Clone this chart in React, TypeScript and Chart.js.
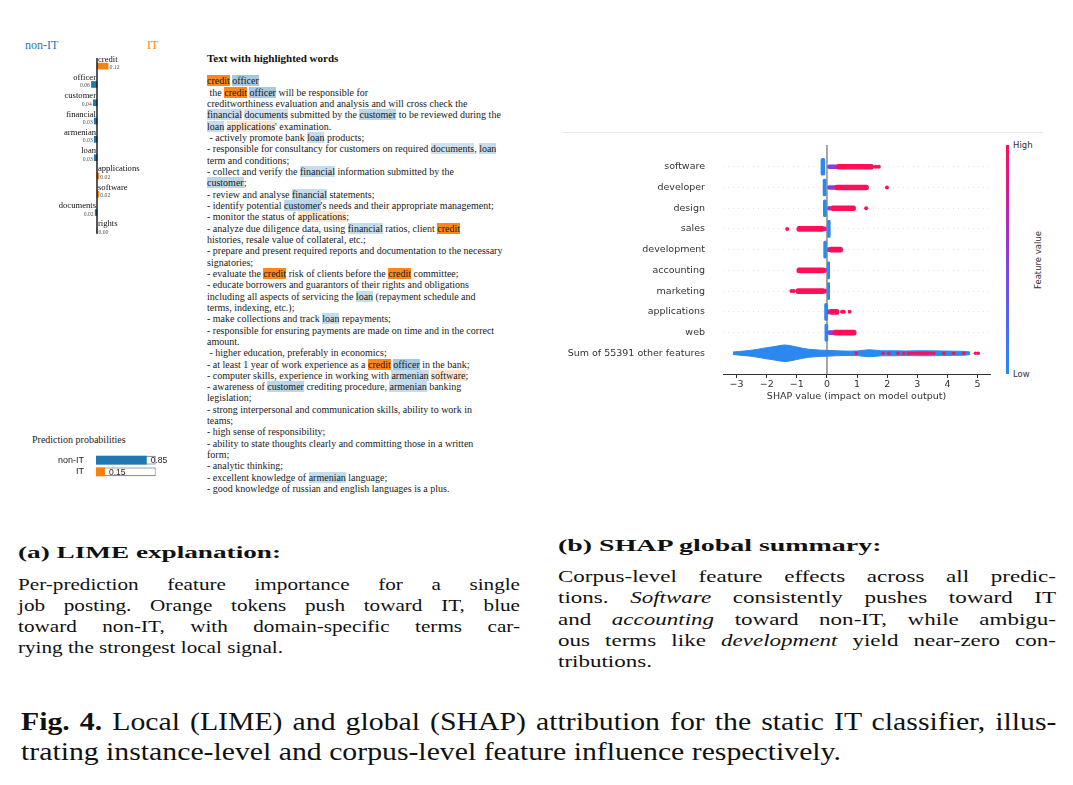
import React, { useEffect, useRef } from 'react';
import { Chart, registerables } from 'chart.js';

Chart.register(...registerables);

// ---------------- DATA ----------------
// (a) LIME local explanation
const limeFeatures = ['credit', 'officer', 'customer', 'financial', 'armenian', 'loan', 'applications', 'software', 'documents', 'rights'];
const limeWeights = [0.12, -0.06, -0.04, -0.03, -0.03, -0.03, 0.02, 0.02, -0.02, 0.0];

// prediction probabilities
const probClasses = ['non-IT', 'IT'];
const probValues = [0.85, 0.15];

// highlighted job posting text (words in [] are LIME features)
const postingLines = [
  '[credit] [officer]',
  ' the [credit] [officer] will be responsible for',
  'creditworthiness evaluation and analysis and will cross check the',
  '[financial] [documents] submitted by the [customer] to be reviewed during the',
  "[loan] [applications]' examination.",
  ' - actively promote bank [loan] products;',
  '- responsible for consultancy for customers on required [documents], [loan]',
  'term and conditions;',
  '- collect and verify the [financial] information submitted by the',
  '[customer];',
  '- review and analyse [financial] statements;',
  "- identify potential [customer]'s needs and their appropriate management;",
  '- monitor the status of [applications];',
  '- analyze due diligence data, using [financial] ratios, client [credit]',
  'histories, resale value of collateral, etc.;',
  '- prepare and present required reports and documentation to the necessary',
  'signatories;',
  '- evaluate the [credit] risk of clients before the [credit] committee;',
  '- educate borrowers and guarantors of their rights and obligations',
  'including all aspects of servicing the [loan] (repayment schedule and',
  'terms, indexing, etc.);',
  '- make collections and track [loan] repayments;',
  '- responsible for ensuring payments are made on time and in the correct',
  'amount.',
  ' - higher education, preferably in economics;',
  '- at least 1 year of work experience as a [credit] [officer] in the bank;',
  '- computer skills, experience in working with [armenian] [software];',
  '- awareness of [customer] crediting procedure, [armenian] banking',
  'legislation;',
  '- strong interpersonal and communication skills, ability to work in',
  'teams;',
  '- high sense of responsibility;',
  '- ability to state thoughts clearly and committing those in a written',
  'form;',
  '- analytic thinking;',
  '- excellent knowledge of [armenian] language;',
  '- good knowledge of russian and english languages is a plus.',
];

// (b) SHAP global summary
const shapFeatures = ['software', 'developer', 'design', 'sales', 'development', 'accounting', 'marketing', 'applications', 'web', 'Sum of 55391 other features'];
const shapXTicks = [-3, -2, -1, 0, 1, 2, 3, 4, 5];
// low feature value (blue) clusters per row: [from, to]
const shapLowRanges = [[-0.2, -0.07], [-0.13, -0.03], [-0.12, -0.02], [0.02, 0.11], [-0.11, 0.0], [0.0, 0.09], [0.0, 0.09], [-0.08, 0.02], [-0.07, 0.03]];
// mid feature value (purple) runs per row
const shapMidRanges = [[0.0, 0.35], [0.0, 0.3], [0.0, 0.15], [-0.12, 0.0], [0.0, 0.08], [-0.08, 0.0], [-0.08, 0.0], [0.0, 0.08], [0.03, 0.25]];
// high feature value (red) runs per row
const shapHighRanges = [[0.3, 1.55], [0.25, 1.38], [0.12, 0.95], [-1.0, -0.08], [0.06, 0.52], [-1.0, -0.06], [-1.03, -0.06], [0.06, 0.4], [0.2, 0.97]];
// isolated high-value points per row
const shapHighOutliers = [[1.62, 1.72], [1.99], [1.3], [-1.32], [], [], [-1.1, -1.18], [0.5, 0.56, 0.75], []];
// "Sum of other features" swarm: x positions and half-spread (in row units)
const sumSwarmX = [-3.12, -2.9, -2.6, -2.3, -2.0, -1.8, -1.6, -1.4, -1.2, -1.0, -0.8, -0.6, -0.4, -0.2, 0.0, 0.5, 1.0, 1.4, 1.8, 2.2, 2.6, 3.0, 3.4, 3.8, 4.2, 4.6, 4.75];
const sumSwarmHalf = [0.06, 0.09, 0.13, 0.19, 0.27, 0.31, 0.36, 0.4, 0.36, 0.3, 0.24, 0.19, 0.17, 0.15, 0.14, 0.11, 0.11, 0.17, 0.12, 0.12, 0.11, 0.12, 0.12, 0.11, 0.1, 0.09, 0.06];
const sumHighPoints = [0.97, 1.86, 2.05, 2.36, 2.55, 2.7, 2.8, 2.9, 3.0, 3.08, 3.15, 3.22, 3.28, 3.35, 3.45, 3.55, 3.88, 4.2, 4.54, 4.93, 5.02];

// captions
type Seg = { t: string; i?: boolean; b?: boolean };
const capAHead: Seg[][] = [[{ t: '(a) LIME explanation:', b: true }]];
const capABody: Seg[][] = [
  [{ t: 'Per-prediction feature importance for a single' }],
  [{ t: 'job posting. Orange tokens push toward IT, blue' }],
  [{ t: 'toward non-IT, with domain-specific terms car-' }],
  [{ t: 'rying the strongest local signal.' }],
];
const capBHead: Seg[][] = [[{ t: '(b) SHAP global summary:', b: true }]];
const capBBody: Seg[][] = [
  [{ t: 'Corpus-level feature effects across all predic-' }],
  [{ t: 'tions. ' }, { t: 'Software', i: true }, { t: ' consistently pushes toward IT' }],
  [{ t: 'and ' }, { t: 'accounting', i: true }, { t: ' toward non-IT, while ambigu-' }],
  [{ t: 'ous terms like ' }, { t: 'development', i: true }, { t: ' yield near-zero con-' }],
  [{ t: 'tributions.' }],
];
const figCaption: Seg[][] = [
  [{ t: 'Fig. 4.', b: true }, { t: ' Local (LIME) and global (SHAP) attribution for the static IT classifier, illus-' }],
  [{ t: 'trating instance-level and corpus-level feature influence respectively.' }],
];

// ---------------- STYLE ----------------
const SERIF = '"Liberation Serif", "Times New Roman", serif';
const SANS = '"DejaVu Sans", sans-serif';
const LIME_BLUE = '#1f77b4';
const LIME_ORANGE = '#ff7f0e';
const SHAP_BLUE = '#2a88ee';
const SHAP_RED = '#ff0f57';
const SHAP_PURPLE = '#8a3ddf';

// ---------------- helpers ----------------
const mctx = document.createElement('canvas').getContext('2d') as CanvasRenderingContext2D;
function segFont(s: Seg, size: number) {
  return `${s.i ? 'italic ' : ''}${s.b ? 'bold ' : ''}${size}px ${SERIF}`;
}
function lineWidth(segs: Seg[], size: number) {
  return segs.reduce((a, s) => {
    mctx.font = segFont(s, size);
    return a + mctx.measureText(s.t).width;
  }, 0);
}
function spaceCount(segs: Seg[]) {
  return segs.reduce((a, s) => a + (s.t.match(/ /g) || []).length, 0);
}

function Para(props: { lines: Seg[][]; left: number; right: number; lastRight: number; ys: number[]; size: number }) {
  const { lines, left, right, lastRight, ys, size } = props;
  const last = lines[lines.length - 1];
  const base = (lastRight - left) / lineWidth(last, size);
  const target = right - left;
  return (
    <>
      {lines.map((segs, k) => {
        const nat = lineWidth(segs, size);
        const isLast = k === lines.length - 1;
        let sx = base;
        let ws = 0;
        if (!isLast) {
          if (nat * sx > target) sx = target / nat;
          else ws = (target / sx - nat) / Math.max(1, spaceCount(segs));
        }
        return (
          <div
            key={k}
            style={{
              position: 'absolute',
              left,
              top: ys[k] - size * 0.62,
              height: size * 1.2,
              lineHeight: `${size * 1.2}px`,
              fontSize: size,
              fontFamily: SERIF,
              whiteSpace: 'pre',
              transform: `scaleX(${sx})`,
              transformOrigin: '0 50%',
              wordSpacing: ws,
              color: '#111',
            }}
          >
            {segs.map((s, j) => (
              <span key={j} style={{ fontStyle: s.i ? 'italic' : 'normal', fontWeight: s.b ? 'bold' : 'normal' }}>
                {s.t}
              </span>
            ))}
          </div>
        );
      })}
    </>
  );
}

function ChartBox(props: { left: number; top: number; width: number; height: number; make: () => any }) {
  const ref = useRef<HTMLCanvasElement>(null);
  useEffect(() => {
    const chart = new Chart(ref.current as HTMLCanvasElement, props.make());
    return () => chart.destroy();
  }, []);
  return (
    <canvas
      ref={ref}
      width={props.width}
      height={props.height}
      style={{ position: 'absolute', left: props.left, top: props.top, width: props.width, height: props.height }}
    />
  );
}

// ---------------- LIME bar chart ----------------
const limePlugin = {
  id: 'limeLabels',
  afterDatasetsDraw(chart: any) {
    const { ctx, scales } = chart;
    const x = scales.x;
    const y = scales.y;
    const x0 = x.getPixelForValue(0);
    ctx.save();
    ctx.strokeStyle = '#111';
    ctx.lineWidth = 1.4;
    ctx.beginPath();
    ctx.moveTo(x0, chart.chartArea.top + 1);
    ctx.lineTo(x0, y.getPixelForValue(limeFeatures.length - 1) + 3);
    ctx.stroke();
    ctx.textBaseline = 'middle';
    limeFeatures.forEach((f, i) => {
      const w = limeWeights[i];
      const yc = y.getPixelForValue(i);
      const pos = w >= 0;
      ctx.font = `8.6px ${SERIF}`;
      ctx.fillStyle = '#111';
      ctx.textAlign = pos ? 'left' : 'right';
      ctx.fillText(f, pos ? x0 + 1 : x0 - 1, yc - 6.8);
      ctx.font = `5.7px ${SERIF}`;
      ctx.fillStyle = '#555';
      const xe = x.getPixelForValue(w);
      ctx.fillText(Math.abs(w).toFixed(2), pos ? xe + 1.5 : xe - 1.5, yc + 1.5);
    });
    ctx.restore();
  },
};

function makeLime() {
  return {
    type: 'bar',
    data: {
      labels: limeFeatures,
      datasets: [
        {
          data: limeWeights,
          backgroundColor: limeWeights.map((w) => (w > 0 ? LIME_ORANGE : LIME_BLUE)),
          barThickness: 6,
        },
      ],
    },
    options: {
      indexAxis: 'y',
      responsive: false,
      animation: false,
      events: [],
      layout: { padding: { top: 10, bottom: 7, left: 0, right: 0 } },
      plugins: { legend: { display: false }, tooltip: { enabled: false } },
      scales: {
        x: { type: 'linear', min: -0.8, max: 0.8, display: false },
        y: { display: false },
      },
    },
    plugins: [limePlugin],
  };
}

// ---------------- prediction probabilities ----------------
const probPlugin = {
  id: 'probLabels',
  afterDatasetsDraw(chart: any) {
    const { ctx, scales } = chart;
    ctx.save();
    ctx.font = `8.5px "Liberation Sans", Arial, sans-serif`;
    ctx.fillStyle = '#222';
    ctx.textBaseline = 'middle';
    ctx.textAlign = 'left';
    probValues.forEach((v, i) => {
      ctx.fillText(v.toFixed(2), scales.x.getPixelForValue(v) + 4, scales.y.getPixelForValue(i) + 0.5);
    });
    ctx.restore();
  },
};

function makeProb() {
  return {
    type: 'bar',
    data: {
      labels: probClasses,
      datasets: [
        {
          data: probValues,
          backgroundColor: [LIME_BLUE, LIME_ORANGE],
          barPercentage: 0.76,
          categoryPercentage: 1,
          grouped: false,
          order: 1,
        },
        {
          data: probClasses.map(() => 1),
          backgroundColor: '#ffffff',
          borderColor: '#444',
          borderWidth: 1,
          borderSkipped: false,
          barPercentage: 0.76,
          categoryPercentage: 1,
          grouped: false,
          order: 2,
        },
      ],
    },
    options: {
      indexAxis: 'y',
      responsive: false,
      animation: false,
      events: [],
      layout: { padding: { top: 6.8, bottom: 7.6, left: 0, right: 24.3 } },
      plugins: { legend: { display: false }, tooltip: { enabled: false } },
      scales: {
        x: { type: 'linear', min: 0, max: 1, display: false },
        y: {
          grid: { display: false },
          border: { display: false },
          ticks: { font: { size: 9, family: '"Liberation Sans", Arial, sans-serif' }, color: '#222', padding: 4 },
          afterFit: (s: any) => {
            s.width = 56;
          },
        },
      },
    },
    plugins: [probPlugin],
  };
}

// ---------------- SHAP summary ----------------
function makeShap() {
  const sumRow = shapFeatures.length - 1;
  const lowBars = shapLowRanges.map((r, i) => ({ y: i, x: r }));
  const midBars = shapMidRanges.map((r, i) => ({ y: i, x: r }));
  const highBars = shapHighRanges.map((r, i) => ({ y: i, x: r }));
  const outliers: { x: number; y: number }[] = [];
  shapHighOutliers.forEach((xs, i) => xs.forEach((x) => outliers.push({ x, y: i })));
  const upper = sumSwarmX.map((x, i) => ({ x, y: sumRow - sumSwarmHalf[i] }));
  const lower = sumSwarmX.map((x, i) => ({ x, y: sumRow + sumSwarmHalf[i] }));
  const sumHigh = sumHighPoints.map((x) => ({ x, y: sumRow }));
  const tickFont = { size: 9.5, family: SANS };
  return {
    type: 'bar',
    data: {
      datasets: [
        { type: 'line', data: [{ x: 0, y: -1.05 }, { x: 0, y: 10 }], borderColor: '#9a9a9a', borderWidth: 1, pointRadius: 0, order: 10 },
        { type: 'line', data: upper, borderColor: SHAP_BLUE, borderWidth: 1, pointRadius: 0, tension: 0.35, fill: false, order: 6 },
        { type: 'line', data: lower, borderColor: SHAP_BLUE, borderWidth: 1, pointRadius: 0, tension: 0.35, fill: '-1', backgroundColor: SHAP_BLUE, order: 6 },
        { type: 'bar', indexAxis: 'y', data: lowBars, backgroundColor: SHAP_BLUE, barThickness: 17, borderRadius: 4, borderSkipped: false, grouped: false, order: 4 },
        { type: 'bar', indexAxis: 'y', data: midBars, backgroundColor: SHAP_PURPLE, barThickness: 4, borderRadius: 2, borderSkipped: false, grouped: false, order: 3 },
        { type: 'bar', indexAxis: 'y', data: highBars, backgroundColor: SHAP_RED, barThickness: 5, borderRadius: 2.5, borderSkipped: false, grouped: false, order: 2 },
        { type: 'scatter', data: outliers, backgroundColor: SHAP_RED, pointRadius: 2, borderWidth: 0, order: 1 },
        { type: 'scatter', data: sumHigh, backgroundColor: SHAP_RED, pointRadius: 1.8, borderWidth: 0, order: 1 },
      ],
    },
    options: {
      responsive: false,
      animation: false,
      events: [],
      layout: { padding: { top: 26, right: 10, left: 0, bottom: 0 } },
      plugins: { legend: { display: false }, tooltip: { enabled: false } },
      scales: {
        x: {
          type: 'linear',
          offset: false,
          min: -3.45,
          max: 5.41,
          afterBuildTicks: (s: any) => {
            s.ticks = shapXTicks.map((v) => ({ value: v }));
          },
          afterFit: (s: any) => {
            s.height = 36;
          },
          grid: { offset: false, drawOnChartArea: false, drawTicks: true, tickLength: 4, color: '#333' },
          border: { display: true, color: '#333', width: 1 },
          ticks: {
            autoSkip: false,
            maxRotation: 0,
            padding: 1,
            font: tickFont,
            color: '#333',
            callback: (v: number) => (v < 0 ? '\u2212' + Math.abs(v) : String(v)),
          },
          title: {
            display: true,
            text: 'SHAP value (impact on model output)',
            font: tickFont,
            color: '#333',
            padding: { top: 0, bottom: 8 },
          },
        },
        y: {
          type: 'linear',
          offset: false,
          reverse: true,
          min: -1.05,
          max: 10,
          afterBuildTicks: (s: any) => {
            s.ticks = shapFeatures.map((_, i) => ({ value: i }));
          },
          afterFit: (s: any) => {
            s.width = 163;
          },
          grid: { offset: false, color: '#d4d4d4', lineWidth: 0.7, drawTicks: false },
          border: { display: false, dash: [1, 4] },
          ticks: {
            autoSkip: false,
            padding: 18,
            font: tickFont,
            color: '#333',
            callback: (v: number) => shapFeatures[v],
          },
        },
      },
    },
  };
}

// ---------------- highlighted text ----------------
function highlight(word: string) {
  const w = limeWeights[limeFeatures.indexOf(word)];
  const r = Math.abs(w) / 0.12;
  if (w > 0) return `rgba(255,127,14,${r > 0.9 ? 0.95 : 0.12 + 0.5 * r})`;
  return `rgba(31,119,180,${0.12 + 0.55 * r})`;
}

function PostingLine({ text }: { text: string }) {
  const parts = text.split(/\[(\w+)\]/);
  return (
    <div style={{ height: 11.33, lineHeight: '11.33px' }}>
      {parts.map((p, i) =>
        i % 2 === 1 ? (
          <span key={i} style={{ background: highlight(p) }}>
            {p}
          </span>
        ) : (
          <span key={i}>{p}</span>
        )
      )}
    </div>
  );
}

export default function App() {
  return (
    <div style={{ position: 'absolute', left: 0, top: 0, width: 1073, height: 785, background: '#fff', overflow: 'hidden' }}>
      {/* LIME panel */}
      <div style={{ position: 'absolute', left: 25, top: 37, fontFamily: SERIF, fontSize: 12, lineHeight: '16px', color: LIME_BLUE }}>non-IT</div>
      <div style={{ position: 'absolute', left: 147, top: 37, fontFamily: SERIF, fontSize: 12, lineHeight: '16px', color: LIME_ORANGE }}>IT</div>
      <ChartBox left={23} top={47} width={148} height={200} make={makeLime} />

      <div style={{ position: 'absolute', left: 32, top: 433, fontFamily: SERIF, fontSize: 10, lineHeight: '13px', color: '#222' }}>
        Prediction probabilities
      </div>
      <ChartBox left={40} top={445} width={140} height={42} make={makeProb} />

      <div style={{ position: 'absolute', left: 207, top: 51, fontFamily: SERIF, fontSize: 11, fontWeight: 'bold', lineHeight: '14px', color: '#111' }}>
        Text with highlighted words
      </div>
      <div style={{ position: 'absolute', left: 207, top: 75.3, fontFamily: SERIF, fontSize: 10, whiteSpace: 'pre', color: '#1a1a1a' }}>
        {postingLines.map((l, i) => (
          <PostingLine key={i} text={l} />
        ))}
      </div>

      {/* SHAP panel */}
      <div style={{ position: 'absolute', left: 563, top: 132, width: 480, height: 1, background: '#e8e8e8' }} />
      <ChartBox left={560} top={119} width={440} height={291} make={makeShap} />
      <div
        style={{
          position: 'absolute',
          left: 1006,
          top: 145,
          width: 3,
          height: 229,
          background: `linear-gradient(to top, ${SHAP_BLUE} 0%, #6a55e8 35%, #a32fc8 62%, ${SHAP_RED} 100%)`,
        }}
      />
      <div style={{ position: 'absolute', left: 1013, top: 140, fontFamily: SANS, fontSize: 8.5, lineHeight: '11px', color: '#333' }}>High</div>
      <div style={{ position: 'absolute', left: 1013, top: 369, fontFamily: SANS, fontSize: 8.5, lineHeight: '11px', color: '#333' }}>Low</div>
      <div
        style={{
          position: 'absolute',
          left: 1038,
          top: 260,
          fontFamily: SANS,
          fontSize: 8.5,
          lineHeight: '11px',
          color: '#333',
          whiteSpace: 'nowrap',
          transform: 'translate(-50%, -50%) rotate(-90deg)',
        }}
      >
        Feature value
      </div>

      {/* captions */}
      <Para lines={capAHead} left={18} right={281} lastRight={281} ys={[553]} size={17.5} />
      <Para lines={capABody} left={18} right={520} lastRight={283} ys={[585, 606, 627, 648]} size={17.5} />
      <Para lines={capBHead} left={558} right={883} lastRight={883} ys={[546]} size={17.5} />
      <Para lines={capBBody} left={558} right={1056} lastRight={652} ys={[577, 598, 620, 641, 662]} size={17.5} />
      <Para lines={figCaption} left={21} right={1057} lastRight={841} ys={[722, 752]} size={25} />
    </div>
  );
}
